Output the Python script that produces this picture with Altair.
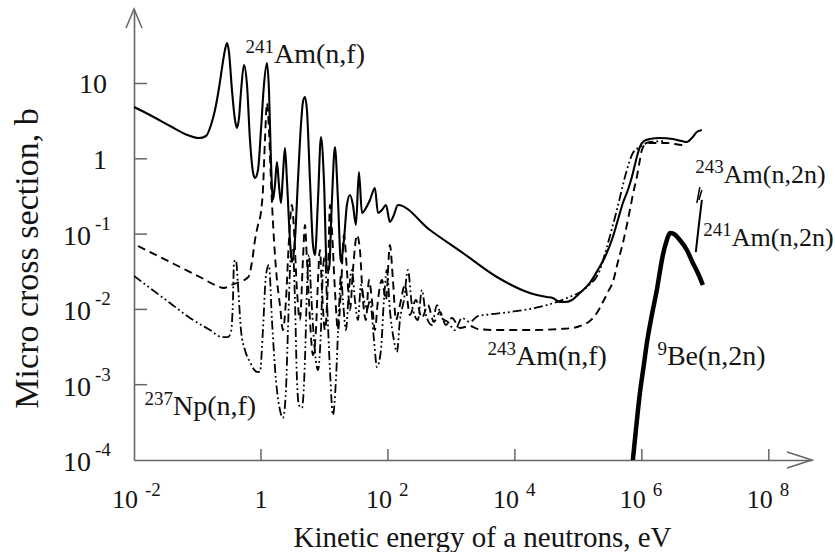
import altair as alt
import pandas as pd

# ---------------- data (decade exponents, log10) ----------------
# 241Am(n,f)  - solid
am241f_logE = [-2.000,-1.748,-1.433,-1.197,-0.976,-0.866,-0.787,-0.724,-0.661,-0.614,
               -0.567,-0.535,-0.504,-0.457,-0.409,-0.378,-0.346,-0.315,-0.268,-0.220,
               -0.173,-0.126,-0.094,-0.047,0.000,0.047,0.094,0.126,0.157,0.189,
               0.220,0.252,0.283,0.315,0.346,0.378,0.409,0.457,0.488,0.535,
               0.583,0.630,0.661,0.693,0.724,0.772,0.819,0.850,0.898,0.945,
               0.992,1.039,1.071,1.118,1.165,1.213,1.260,1.307,1.354,1.402,
               1.449,1.496,1.543,1.591,1.654,1.717,1.795,1.843,1.906,1.969,
               2.031,2.094,2.157,2.661,3.181,3.717,4.236,4.504,4.598,4.709,
               4.787,4.898,5.024,5.181,5.307,5.433,5.543,5.622,5.701,5.780,
               5.843,5.921,5.969,6.031,6.126,6.283,6.488,6.630,6.709,6.787,
               6.866,6.945]
am241f_logS = [0.688,0.582,0.436,0.329,0.276,0.303,0.449,0.648,0.940,1.206,
               1.445,1.538,1.418,0.914,0.515,0.409,0.542,0.887,1.246,0.980,
               0.250,-0.175,-0.255,-0.149,0.382,0.980,1.272,0.914,-0.016,-0.547,
               -0.348,-0.042,-0.348,-0.587,-0.215,0.143,-0.282,-1.078,-1.371,-1.078,
               -0.282,0.449,0.754,0.821,0.648,-0.282,-1.145,-1.278,-0.547,0.290,
               -0.282,-1.477,-1.477,-0.547,0.157,-0.547,-1.371,-1.078,-0.614,-0.481,
               -0.614,-0.879,-0.175,-0.720,-0.653,-0.547,-0.388,-0.720,-0.680,-0.614,
               -0.839,-0.746,-0.614,-0.946,-1.251,-1.570,-1.782,-1.835,-1.849,-1.902,
               -1.902,-1.875,-1.782,-1.649,-1.477,-1.278,-1.039,-0.813,-0.587,-0.414,
               -0.242,0.024,0.157,0.236,0.263,0.276,0.263,0.236,0.223,0.276,
               0.356,0.382]

# 243Am(n,f)  - dashed
am243f_logE = [-1.937,-1.591,-1.276,-0.961,-0.724,-0.583,-0.472,-0.331,-0.236,-0.189,
               -0.142,-0.094,-0.047,0.000,0.031,0.063,0.094,0.126,0.157,0.205,
               0.252,0.299,0.346,0.394,0.441,0.488,0.520,0.567,0.614,0.661,
               0.693,0.724,0.772,0.819,0.866,0.898,0.929,0.961,1.008,1.055,
               1.087,1.118,1.165,1.213,1.260,1.307,1.354,1.402,1.449,1.512,
               1.559,1.606,1.654,1.701,1.748,1.795,1.843,1.906,1.969,2.031,
               2.079,2.126,2.189,2.268,2.346,2.441,2.535,2.630,2.724,2.819,
               2.913,3.008,3.134,3.291,3.417,3.717,4.283,4.709,4.913,5.071,
               5.181,5.291,5.386,5.465,5.543,5.622,5.701,5.764,5.811,5.874,
               5.921,5.969,6.000,6.063,6.126,6.394,6.646,6.709]
am243f_logS = [-1.158,-1.304,-1.437,-1.570,-1.676,-1.716,-1.676,-1.636,-1.596,-1.556,
               -1.371,-1.078,-0.879,-0.707,-0.414,0.250,0.741,0.382,-0.282,-1.078,
               -1.610,-1.942,-2.274,-1.875,-1.078,-0.614,-0.946,-1.742,-2.141,-1.344,
               -0.879,-1.344,-2.141,-2.606,-2.274,-1.610,-1.211,-1.742,-2.274,-1.610,
               -0.614,-0.946,-1.742,-2.274,-1.742,-1.012,-1.477,-2.008,-1.477,-1.012,
               -1.211,-1.875,-2.141,-1.610,-1.875,-2.274,-1.875,-1.610,-1.875,-1.145,
               -1.610,-2.141,-1.942,-1.676,-2.074,-1.875,-2.114,-1.942,-2.167,-2.035,
               -2.207,-2.114,-2.247,-2.220,-2.260,-2.274,-2.274,-2.260,-2.247,-2.207,
               -2.154,-2.048,-1.902,-1.769,-1.636,-1.371,-1.118,-0.879,-0.680,-0.414,
               -0.242,-0.016,0.117,0.196,0.210,0.210,0.183,0.183]

# 237Np(n,f)  - dash-dot-dot
np237f_logE = [-2.000,-1.748,-1.433,-1.118,-0.803,-0.614,-0.520,-0.472,-0.441,-0.425,
               -0.394,-0.362,-0.315,-0.252,-0.173,-0.063,-0.016,0.031,0.079,0.126,
               0.173,0.236,0.299,0.346,0.394,0.425,0.472,0.504,0.535,0.567,
               0.598,0.646,0.693,0.724,0.756,0.787,0.835,0.898,0.945,0.976,
               1.008,1.039,1.087,1.134,1.181,1.228,1.260,1.291,1.339,1.386,
               1.433,1.480,1.528,1.575,1.622,1.669,1.717,1.780,1.827,1.890,
               1.937,1.984,2.031,2.094,2.142,2.189,2.252,2.315,2.378,2.472,
               2.535,2.598,2.693,2.772,2.850,2.945,3.055,3.165,3.291,3.417,
               3.528,3.921,4.504,4.819,5.134,5.339,5.449,5.606,5.764,5.858,
               5.969,6.126,6.362]
np237f_logS = [-1.556,-1.716,-1.915,-2.114,-2.274,-2.367,-2.367,-2.300,-1.875,-1.371,
               -1.344,-1.676,-2.274,-2.539,-2.699,-2.831,-2.831,-2.274,-1.543,-1.410,
               -2.141,-2.938,-3.336,-3.442,-3.070,-2.274,-1.278,-1.211,-1.875,-2.938,
               -3.270,-3.309,-2.672,-1.742,-1.278,-1.742,-2.406,-2.805,-2.274,-1.477,
               -1.278,-1.875,-2.805,-3.402,-2.938,-2.008,-1.543,-1.875,-2.274,-1.742,
               -1.477,-1.875,-2.141,-1.676,-1.875,-2.008,-1.875,-2.406,-2.765,-2.539,
               -1.875,-1.477,-2.008,-2.406,-2.566,-2.141,-1.875,-1.477,-1.942,-2.141,
               -1.742,-2.074,-2.207,-1.942,-2.114,-2.167,-2.274,-2.114,-2.167,-2.088,
               -2.074,-2.035,-1.942,-1.849,-1.703,-1.477,-1.171,-0.680,-0.149,0.077,
               0.157,0.223,0.236]

# 9Be(n,2n)  - thick solid
be9_logE = [5.852,5.906,5.969,6.031,6.079,6.157,6.236,6.283,6.331,6.394,
            6.441,6.504,6.598,6.709,6.803,6.882,6.961]
be9_logS = [-4.050,-3.602,-3.110,-2.738,-2.446,-2.074,-1.742,-1.503,-1.278,-1.078,
            -0.985,-0.999,-1.078,-1.211,-1.384,-1.517,-1.676]

# 241Am(n,2n) and 243Am(n,2n) - short steep strokes
am241n2n_logE = [6.850, 6.898, 6.945]
am241n2n_logS = [-1.238, -0.879, -0.547]
am243n2n_a_logE = [6.866, 6.913]
am243n2n_a_logS = [-0.587, -0.375]
am243n2n_b_logE = [6.898, 6.945]
am243n2n_b_logS = [-0.547, -0.414]

# curve labels (anchor = start of the main text, on its baseline)
lab_logE = [0.205, 4.016, 6.394, -1.386]
lab_logS = [1.272, -2.738, -2.738, -3.402]
lab_sup = ["241", "243", "9", "237"]
lab_main = ["Am(n,f)", "Am(n,f)", "Be(n,2n)", "Np(n,f)"]
lab2_logE = [7.291, 7.417]
lab2_logS = [-0.321, -1.158]
lab2_sup = ["243", "241"]
lab2_main = ["Am(n,2n)", "Am(n,2n)"]

# axis ticks and tick labels
x_ticks = [1, 1e2, 1e4, 1e6, 1e8]
y_ticks = [1e-3, 1e-2, 1e-1, 1, 10]
x_pow_vals = [1e-2, 1e2, 1e4, 1e6, 1e8]
x_pow_exp = ["-2", "2", "4", "6", "8"]
x_plain_vals = [1]
x_plain_txt = ["1"]
y_pow_vals = [1e-1, 1e-2, 1e-3, 1e-4]
y_pow_exp = ["-1", "-2", "-3", "-4"]
y_plain_vals = [10, 1]
y_plain_txt = ["10", "1"]

# ---------------- chart ----------------
W, H = 678, 450
FONT = "Liberation Serif"
INK = "#141414"
AX = "#666666"

xs = alt.Scale(type="log", domain=[0.01, 10 ** 8.68], nice=False)
ys = alt.Scale(type="log", domain=[1e-4, 10 ** 1.976], nice=False)

x_axis = alt.Axis(title="Kinetic energy of a neutrons, eV", labels=False, ticks=False, grid=False,
                  domainColor=AX, domainWidth=1.6, titleFont=FONT, titleFontSize=29,
                  titleFontWeight="normal", titleColor=INK, titleX=348, titleY=86,
                  titleAlign="center", titleBaseline="alphabetic")
y_axis = alt.Axis(title="Micro cross section, b", labels=False, ticks=False, grid=False,
                  domainColor=AX, domainWidth=1.6, titleFont=FONT, titleFontSize=34,
                  titleFontWeight="normal", titleColor=INK, titleAngle=270, titleX=-97,
                  titleY=248, titleAlign="center", titleBaseline="alphabetic")


def curve(logE, logS, seg=0):
    return pd.DataFrame({"E": [10 ** v for v in logE],
                         "sigma": [10 ** v for v in logS],
                         "seg": seg})


def line_layer(df, width=2.0, dash=None):
    kw = dict(color="black", strokeWidth=width, interpolate="monotone", clip=True)
    if dash:
        kw["strokeDash"] = dash
    return alt.Chart(df).mark_line(**kw).encode(
        x=alt.X("E:Q", scale=xs, axis=x_axis),
        y=alt.Y("sigma:Q", scale=ys, axis=y_axis),
        detail="seg:N",
    )


am243n2n = pd.concat([curve(am243n2n_a_logE, am243n2n_a_logS, 0),
                      curve(am243n2n_b_logE, am243n2n_b_logS, 1)])

lines = [
    line_layer(curve(np237f_logE, np237f_logS), 1.8, [9, 3, 1.8, 3, 1.8, 3]),
    line_layer(curve(am243f_logE, am243f_logS), 1.9, [8, 5]),
    line_layer(curve(am241f_logE, am241f_logS), 2.1),
    line_layer(curve(be9_logE, be9_logS), 4.5),
    line_layer(curve(am241n2n_logE, am241n2n_logS), 2.0),
    line_layer(am243n2n, 1.5),
]

# ticks (pointing inward)
xt = alt.Chart(pd.DataFrame({"E": x_ticks})).mark_rule(color=AX, strokeWidth=1.5).encode(
    x=alt.X("E:Q", scale=xs, axis=x_axis), y=alt.value(H), y2=alt.value(H - 11))
yt = alt.Chart(pd.DataFrame({"sigma": y_ticks})).mark_rule(color=AX, strokeWidth=1.5).encode(
    y=alt.Y("sigma:Q", scale=ys, axis=y_axis), x=alt.value(0), x2=alt.value(13))

# tick labels
xpow = pd.DataFrame({"E": x_pow_vals, "exp": x_pow_exp})
x_base = alt.Chart(xpow).mark_text(font=FONT, fontSize=26, color=INK, align="right",
                                   baseline="alphabetic", dx=4).encode(
    x=alt.X("E:Q", scale=xs), y=alt.value(H + 48), text=alt.value("10"))
x_exp = alt.Chart(xpow).mark_text(font=FONT, fontSize=19, color=INK, align="left",
                                  baseline="alphabetic", dx=11).encode(
    x=alt.X("E:Q", scale=xs), y=alt.value(H + 36), text="exp:N")
x_plain = alt.Chart(pd.DataFrame({"E": x_plain_vals, "t": x_plain_txt})).mark_text(
    font=FONT, fontSize=26, color=INK, align="center", baseline="alphabetic").encode(
    x=alt.X("E:Q", scale=xs), y=alt.value(H + 48), text="t:N")

ypow = pd.DataFrame({"sigma": y_pow_vals, "exp": y_pow_exp})
y_base = alt.Chart(ypow).mark_text(font=FONT, fontSize=28, color=INK, align="right",
                                   baseline="alphabetic", dy=11).encode(
    y=alt.Y("sigma:Q", scale=ys), x=alt.value(-43), text=alt.value("10"))
y_exp = alt.Chart(ypow).mark_text(font=FONT, fontSize=19, color=INK, align="left",
                                  baseline="alphabetic", dy=-4).encode(
    y=alt.Y("sigma:Q", scale=ys), x=alt.value(-39), text="exp:N")
y_plain = alt.Chart(pd.DataFrame({"sigma": y_plain_vals, "t": y_plain_txt})).mark_text(
    font=FONT, fontSize=28, color=INK, align="right", baseline="alphabetic", dy=10).encode(
    y=alt.Y("sigma:Q", scale=ys), x=alt.value(-27), text="t:N")

# curve labels


def label_layers(logE, logS, sup, main, size):
    df = pd.DataFrame({"E": [10 ** v for v in logE], "sigma": [10 ** v for v in logS],
                       "sup": sup, "main": main})
    base = alt.Chart(df).encode(x=alt.X("E:Q", scale=xs), y=alt.Y("sigma:Q", scale=ys))
    m = base.mark_text(font=FONT, fontSize=size, color=INK, align="left",
                       baseline="alphabetic").encode(text="main:N")
    s = base.mark_text(font=FONT, fontSize=19, color=INK, align="right",
                       baseline="alphabetic", dy=-10).encode(text="sup:N")
    return [m, s]


labels = label_layers(lab_logE, lab_logS, lab_sup, lab_main, 28) + \
    label_layers(lab2_logE, lab2_logS, lab2_sup, lab2_main, 26)

# arrow heads at the ends of the axes
one = pd.DataFrame({"a": [0]})
x_arrow = alt.Chart(one).mark_point(shape="M -1 -0.32 L 0 0 L -1 0.32", size=2500, filled=False,
                                    stroke=AX, strokeWidth=1.5, opacity=1).encode(
    x=alt.value(W), y=alt.value(H))
y_arrow = alt.Chart(one).mark_point(shape="M -0.42 1 L 0 0 L 0.42 1", size=1444, filled=False,
                                    stroke=AX, strokeWidth=1.5, opacity=1).encode(
    x=alt.value(0), y=alt.value(-1))

chart = alt.layer(
    xt, yt, *lines, x_base, x_exp, x_plain, y_base, y_exp, y_plain, *labels, x_arrow, y_arrow
).properties(
    width=W, height=H,
    padding={"left": 134, "top": 10, "right": 23, "bottom": 92},
    autosize=alt.AutoSizeParams(type="none"),
    background="white",
).configure_view(stroke=None)

chart.save("out.html", embed_options={"renderer": "svg", "actions": False})
